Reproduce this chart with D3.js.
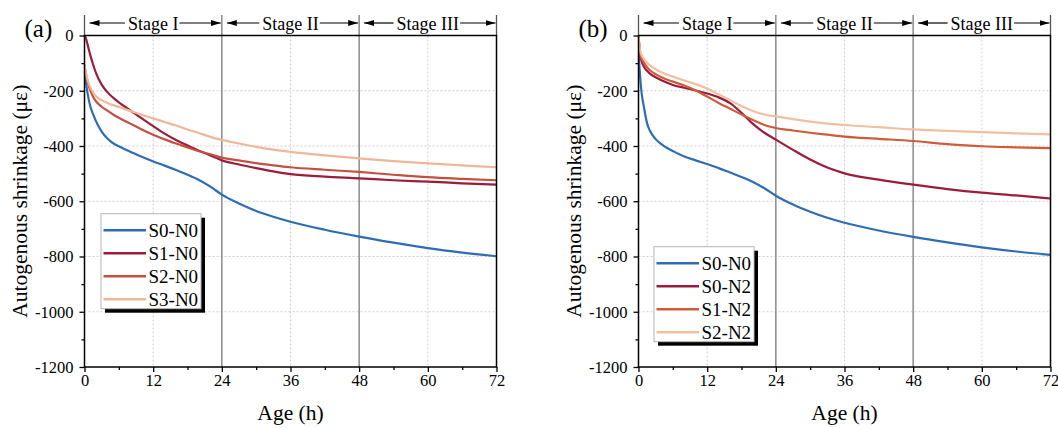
<!DOCTYPE html>
<html>
<head>
<meta charset="utf-8">
<script src="https://cdn.jsdelivr.net/npm/d3@7/dist/d3.min.js"></script>
<style>
body{
  margin: 0;
  background: #fff;
}
svg{
  display: block;
  font-family: "Times New Roman", "Liberation Serif", serif;
}
</style>
</head>
<body>
<svg id="chart" width="1058" height="428"></svg>
<script>

// DATA ----------------------------------------------------------------

// sampling times (h), shared by every curve
var hours = [0, 0.25, 0.5, 1, 1.5, 2, 3, 4, 5, 6, 8, 10, 12, 14, 16, 18, 20, 22, 24,
             27, 30, 33, 36, 42, 48, 54, 60, 66, 72];

// panel (a)
var a_S0N0 = [-120, -170, -205, -255, -285, -310, -348, -373, -390, -401, -421, -439, -456, -471, -487, -504, -523, -547, -576,
              -608, -635, -656, -674, -703, -728, -750, -770, -786, -799];
var a_S1N0 = [0, -10, -30, -70, -105, -135, -178, -205, -225, -242, -271, -300, -328, -355, -378, -398, -417, -434, -452,
              -467, -480, -492, -502, -511, -517, -524, -529, -535, -540];
var a_S2N0 = [-112, -140, -165, -198, -222, -238, -258, -272, -286, -298, -319, -340, -359, -376, -391, -405, -419, -430, -442,
              -452, -462, -470, -477, -486, -494, -504, -513, -519, -524];
var a_S3N0 = [-105, -135, -158, -187, -207, -220, -234, -244, -252, -259, -273, -287, -300, -313, -326, -340, -353, -367, -378,
              -391, -403, -413, -421, -434, -445, -455, -463, -470, -477];

// panel (b)
var b_S0N0 = [-50, -140, -200, -265, -318, -345, -375, -393, -407, -418, -438, -452, -465, -480, -496, -512, -530, -553, -580,
              -612, -638, -660, -678, -706, -729, -749, -767, -782, -794];
var b_S0N2 = [0, -60, -90, -115, -128, -138, -151, -162, -171, -179, -189, -199, -210, -224, -245, -280, -320, -352, -377,
              -414, -449, -478, -499, -522, -540, -556, -569, -579, -590];
var b_S1N2 = [0, -60, -80, -100, -115, -126, -140, -151, -160, -167, -181, -199, -221, -244, -265, -286, -306, -324, -335,
              -344, -352, -359, -366, -374, -382, -393, -401, -405, -408];
var b_S2N2 = [0, -50, -68, -86, -99, -108, -122, -133, -142, -149, -163, -176, -192, -213, -234, -255, -273, -286, -293,
              -303, -312, -319, -324, -332, -340, -345, -350, -354, -358];

var namesA = ["S0-N0", "S1-N0", "S2-N0", "S3-N0"];
var namesB = ["S0-N0", "S0-N2", "S1-N2", "S2-N2"];

var xTicks = [0, 12, 24, 36, 48, 60, 72];
var xMinor = [6, 18, 30, 42, 54, 66];
var yTicks = [0, -200, -400, -600, -800, -1000, -1200];
var yMinor = [-100, -300, -500, -700, -900, -1100];

var stages = [
  {label: "Stage I",   from: 0,  to: 24},
  {label: "Stage II",  from: 24, to: 48},
  {label: "Stage III", from: 48, to: 72}
];

// END -------------------------------------------------------------------


// LAYOUT ----------------------------------------------------------------

var colorsA = ["#2f6db3", "#9b1d3b", "#c4513f", "#efb797"];
var colorsB = ["#2f6db3", "#9b1d3b", "#cf5c38", "#f2bf9f"];

var top_ = 35.5, bottom = 367;

var panels = [
  {tag: "(a)", left: 84.5,  right: 496.5,  legX: 101, legY: 213.7,
   names: namesA, colors: colorsA, values: [a_S0N0, a_S1N0, a_S2N0, a_S3N0]},
  {tag: "(b)", left: 638.5, right: 1050.5, legX: 654, legY: 246.7,
   names: namesB, colors: colorsB, values: [b_S0N0, b_S0N2, b_S1N2, b_S2N2]}
];

var svg = d3.select("#chart");

var defs = svg.append("defs");
defs.append("marker")
    .attr("id", "arrowhead")
    .attr("viewBox", "0 0 10 6")
    .attr("refX", 10).attr("refY", 3)
    .attr("markerWidth", 10).attr("markerHeight", 6)
    .attr("markerUnits", "userSpaceOnUse")
    .attr("orient", "auto")
  .append("path")
    .attr("d", "M0,0 L10,3 L0,6 Z")
    .attr("fill", "#000");

// END -------------------------------------------------------------------


// PANELS ----------------------------------------------------------------

panels.forEach(function(p, pi){

  var x = d3.scaleLinear().domain([0, 72]).range([p.left, p.right]);
  var y = d3.scaleLinear().domain([-1200, 0]).range([bottom, top_]);

  var g = svg.append("g").attr("class", "panel-" + pi);

  defs.append("clipPath").attr("id", "clip" + pi)
    .append("rect")
      .attr("x", p.left).attr("y", top_)
      .attr("width", p.right - p.left).attr("height", bottom - top_);

  // dotted grid
  g.selectAll(".gx").data([12, 36, 60]).enter().append("line")
      .attr("x1", d => x(d)).attr("x2", d => x(d))
      .attr("y1", top_).attr("y2", bottom)
      .attr("stroke", "#cfcfcf").attr("stroke-width", 1)
      .attr("stroke-dasharray", "2,2");
  g.selectAll(".gy").data(yTicks.slice(1, -1)).enter().append("line")
      .attr("x1", p.left).attr("x2", p.right)
      .attr("y1", d => y(d)).attr("y2", d => y(d))
      .attr("stroke", "#cfcfcf").attr("stroke-width", 1)
      .attr("stroke-dasharray", "2,2");

  // stage boundaries
  g.selectAll(".sb").data([24, 48]).enter().append("line")
      .attr("x1", d => x(d)).attr("x2", d => x(d))
      .attr("y1", 15).attr("y2", bottom)
      .attr("stroke", "#8a8a8a").attr("stroke-width", 1.5);
  g.selectAll(".se").data([0, 72]).enter().append("line")
      .attr("x1", d => x(d)).attr("x2", d => x(d))
      .attr("y1", 15).attr("y2", top_)
      .attr("stroke", "#555").attr("stroke-width", 1.3);

  // curves
  var line = d3.line()
      .x((d, i) => x(hours[i]))
      .y(d => y(d))
      .curve(d3.curveMonotoneX);

  g.append("g").attr("clip-path", "url(#clip" + pi + ")")
    .selectAll("path").data(p.values).enter().append("path")
      .attr("d", line)
      .attr("fill", "none")
      .attr("stroke", (d, i) => p.colors[i])
      .attr("stroke-width", 2.2)
      .attr("stroke-linejoin", "round");

  // frame
  g.append("rect")
      .attr("x", p.left).attr("y", top_)
      .attr("width", p.right - p.left).attr("height", bottom - top_)
      .attr("fill", "none").attr("stroke", "#000").attr("stroke-width", 1.5);

  // axes
  g.append("g").attr("transform", "translate(0," + bottom + ")")
      .call(d3.axisBottom(x).tickValues(xTicks).tickSize(5).tickPadding(2).tickFormat(d => String(d)));
  g.append("g").attr("transform", "translate(0," + bottom + ")")
      .call(d3.axisBottom(x).tickValues(xMinor).tickSize(3).tickFormat(""));
  g.append("g").attr("transform", "translate(" + p.left + ",0)")
      .call(d3.axisLeft(y).tickValues(yTicks).tickSize(5).tickPadding(6).tickFormat(d => String(d)));
  g.append("g").attr("transform", "translate(" + p.left + ",0)")
      .call(d3.axisLeft(y).tickValues(yMinor).tickSize(3).tickFormat(""));

  g.selectAll(".domain").remove();
  g.selectAll(".tick line").attr("stroke", "#000").attr("stroke-width", 1.3);
  g.selectAll(".tick text")
      .attr("font-family", "'Times New Roman', 'Liberation Serif', serif")
      .attr("font-size", 16.5).attr("fill", "#000");

  // axis titles
  g.append("text")
      .attr("x", (p.left + p.right) / 2).attr("y", 420)
      .attr("text-anchor", "middle")
      .attr("font-size", 21.5)
      .text("Age (h)");
  g.append("text")
      .attr("transform", "translate(" + (p.left - 57.5) + "," + ((top_ + bottom) / 2) + ") rotate(-90)")
      .attr("text-anchor", "middle")
      .attr("font-size", 21.5)
      .text("Autogenous shrinkage (\u03bc\u03b5)");

  // panel tag
  g.append("text")
      .attr("x", p.left - 60).attr("y", 37)
      .attr("font-size", 25)
      .text(p.tag);

  // stage annotation
  stages.forEach(function(s){
    var x0 = x(s.from), x1 = x(s.to), cx = (x0 + x1) / 2, ay = 23;
    var t = g.append("text")
        .attr("x", cx).attr("y", 29.5)
        .attr("text-anchor", "middle")
        .attr("font-size", 18)
        .text(s.label);
    var w = t.node().getComputedTextLength();
    g.append("line")
        .attr("x1", cx - w / 2 - 3).attr("x2", x0 + 5)
        .attr("y1", ay).attr("y2", ay)
        .attr("stroke", "#000").attr("stroke-width", 1.2)
        .attr("marker-end", "url(#arrowhead)");
    g.append("line")
        .attr("x1", cx + w / 2 + 1).attr("x2", x1 - 1)
        .attr("y1", ay).attr("y2", ay)
        .attr("stroke", "#000").attr("stroke-width", 1.2)
        .attr("marker-end", "url(#arrowhead)");
  });

  // legend
  var lw = 100, lh = 95;
  var leg = g.append("g").attr("transform", "translate(" + p.legX + "," + p.legY + ")");
  leg.append("rect")
      .attr("x", 4).attr("y", 4).attr("width", lw).attr("height", lh)
      .attr("fill", "#000");
  leg.append("rect")
      .attr("width", lw).attr("height", lh)
      .attr("fill", "#fff").attr("stroke", "#b5b5b5").attr("stroke-width", 1);
  var items = leg.selectAll(".item").data(p.names).enter().append("g")
      .attr("transform", (d, i) => "translate(0," + (16.6 + i * 23) + ")");
  items.append("line")
      .attr("x1", 2.5).attr("x2", 45)
      .attr("stroke", (d, i) => p.colors[i])
      .attr("stroke-width", 2.4);
  items.append("text")
      .attr("x", 47.5).attr("dy", "0.34em")
      .attr("font-size", 19)
      .text(d => d);
});

// END -------------------------------------------------------------------

</script>
</body>
</html>
